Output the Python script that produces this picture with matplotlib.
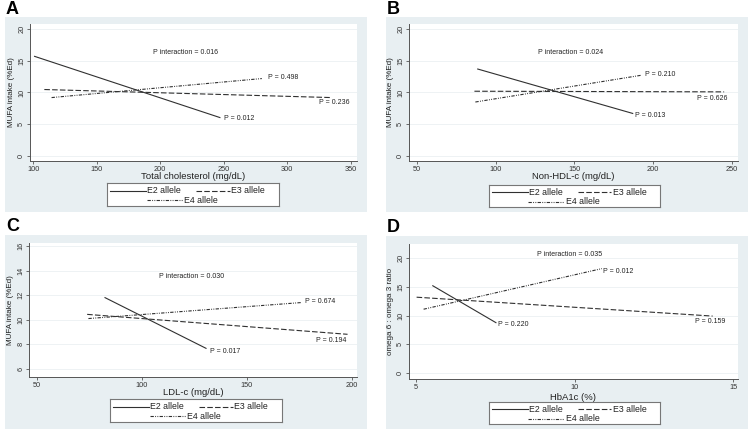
import matplotlib
matplotlib.use("Agg")
import matplotlib.pyplot as plt
from matplotlib.patches import Rectangle
from matplotlib.lines import Line2D

plt.rcParams["font.family"] = ["Liberation Sans", "DejaVu Sans"]

W, H = 753, 432
BG = "#e8eff2"
INK = "#303030"

# panel data: (x start, y start, x end, y end) per allele line
alleles = ["E2 allele", "E3 allele", "E4 allele"]
styles = ["-", (0, (5, 2)), (0, (3, 1.2, 0.8, 1.2, 0.8, 1.2))]

a_lines = [(101, 15.7, 247, 6.05), (108.7, 10.47, 335, 9.2), (114.4, 9.2, 280, 12.2)]
a_pvals = [(250, 5.9, "P = 0.012"), (325, 8.5, "P = 0.236"), (285, 12.3, "P = 0.498")]
a_inter = (194.5, 16.3, "P interaction = 0.016")

b_lines = [(88.7, 13.7, 187, 6.7), (86.6, 10.2, 245, 10.1), (87.2, 8.5, 192, 12.7)]
b_pvals = [(188.7, 6.4, "P = 0.013"), (228, 9.0, "P = 0.626"), (194.8, 12.9, "P = 0.210")]
b_inter = (127, 16.3, "P interaction = 0.024")

c_lines = [(82.5, 11.8, 130.6, 7.68), (74, 10.44, 198, 8.82), (74.6, 10.1, 176, 11.4)]
c_pvals = [(132.5, 7.4, "P = 0.017"), (183, 8.33, "P = 0.194"), (177.8, 11.47, "P = 0.674")]
c_inter = (108, 13.5, "P interaction = 0.030")

d_lines = [(5.53, 15.2, 7.52, 8.75), (5.02, 13.2, 14.35, 9.9), (5.24, 11.1, 10.86, 18.2)]
d_pvals = [(7.6, 8.4, "P = 0.220"), (13.8, 9.0, "P = 0.159"), (10.91, 17.7, "P = 0.012")]
d_inter = (8.81, 20.6, "P interaction = 0.035")

panels = [
    dict(letter="A", bg=(5, 17, 367, 212), plot=(30, 24, 357, 161), leg=(107, 183, 279, 206),
         xlim=(97.4, 355), ylim=(-0.8, 20.8), xt=[100, 150, 200, 250, 300, 350], yt=[0, 5, 10, 15, 20],
         xlabel="Total cholesterol (mg/dL)", ylabel="MUFA intake (%Ed)",
         lines=a_lines, pvals=a_pvals, inter=a_inter, lpad=-0.5),
    dict(letter="B", bg=(386, 17, 748, 212), plot=(409, 24, 738, 161), leg=(489, 185, 660, 207),
         xlim=(45.1, 253.8), ylim=(-0.8, 20.8), xt=[50, 100, 150, 200, 250], yt=[0, 5, 10, 15, 20],
         xlabel="Non-HDL-c (mg/dL)", ylabel="MUFA intake (%Ed)",
         lines=b_lines, pvals=b_pvals, inter=b_inter, lpad=-0.5),
    dict(letter="C", bg=(5, 235, 367, 429), plot=(29, 243, 357, 377), leg=(110, 399, 282, 422),
         xlim=(46.3, 202.5), ylim=(5.35, 16.24), xt=[50, 100, 150, 200], yt=[6, 8, 10, 12, 14, 16],
         xlabel="LDL-c (mg/dL)", ylabel="MUFA intake (%Ed)",
         lines=c_lines, pvals=c_pvals, inter=c_inter, lpad=-0.5),
    dict(letter="D", bg=(386, 236, 748, 429), plot=(409, 244, 738, 379), leg=(489, 402, 660, 424),
         xlim=(4.78, 15.15), ylim=(-1.1, 22.5), xt=[5, 10, 15], yt=[0, 5, 10, 15, 20],
         xlabel="HbA1c (%)", ylabel="omega 6 : omega 3 ratio",
         lines=d_lines, pvals=d_pvals, inter=d_inter, lpad=1.5),
]

fig = plt.figure(figsize=(W / 100, H / 100), dpi=100)


def frac(box):
    l, t, r, b = box
    return [l / W, 1 - b / H, (r - l) / W, (b - t) / H]


for p in panels:
    l, t, r, b = p["bg"]
    fig.patches.append(Rectangle((l / W, 1 - b / H), (r - l) / W, (b - t) / H,
                                 transform=fig.transFigure, facecolor=BG, edgecolor="none", zorder=-5))
    fig.text((l + 1) / W, 1 - (t - 8) / H, p["letter"], fontsize=13, fontweight="bold",
             ha="left", va="center")

    ax = fig.add_axes(frac(p["plot"]))
    ax.set_facecolor("white")
    for (x0, y0, x1, y1), ls in zip(p["lines"], styles):
        ax.plot([x0, x1], [y0, y1], color=INK, lw=0.8, linestyle=ls)
    for x, y, s in p["pvals"]:
        ax.text(x, y, s, fontsize=5, ha="left", va="center", color="#222222")
    x, y, s = p["inter"]
    ax.text(x, y, s, fontsize=5, ha="left", va="center", color="#222222")

    ax.set_xlim(*p["xlim"])
    ax.set_ylim(*p["ylim"])
    ax.set_xticks(p["xt"])
    ax.set_yticks(p["yt"])
    ax.set_yticklabels([str(v) for v in p["yt"]], rotation=90, va="center")
    ax.tick_params(labelsize=5.3, length=2.5, width=0.6, color="#555555", pad=1, labelcolor="#333333")
    ax.grid(axis="y", color="#eef2f4", lw=0.7)
    ax.set_axisbelow(True)
    for side in ("top", "right"):
        ax.spines[side].set_visible(False)
    for side in ("left", "bottom"):
        ax.spines[side].set_color("#555555")
        ax.spines[side].set_linewidth(0.7)
    ax.set_xlabel(p["xlabel"], fontsize=6.8, labelpad=p["lpad"], color="#222222")
    ax.set_ylabel(p["ylabel"], fontsize=5.8, labelpad=2, color="#222222")

    # legend box drawn by hand (Stata layout: E4 centred on second row)
    lg = fig.add_axes(frac(p["leg"]))
    lg.set_xlim(0, 1)
    lg.set_ylim(0, 1)
    lg.set_xticks([])
    lg.set_yticks([])
    lg.set_facecolor("white")
    for sp in lg.spines.values():
        sp.set_color("#777777")
        sp.set_linewidth(0.8)
    rows = [(0.017, 0.227, 0.66), (0.52, 0.715, 0.66), (0.23, 0.44, 0.25)]
    for name, ls, (x0, x1, yy) in zip(alleles, styles, rows):
        lg.add_line(Line2D([x0, x1], [yy, yy], color=INK, lw=0.8, linestyle=ls))
        lg.text(x1 + 0.008, yy, name, fontsize=6.3, ha="left", va="center", color="#222222")

fig.savefig("out.png", dpi=100, facecolor="white")
